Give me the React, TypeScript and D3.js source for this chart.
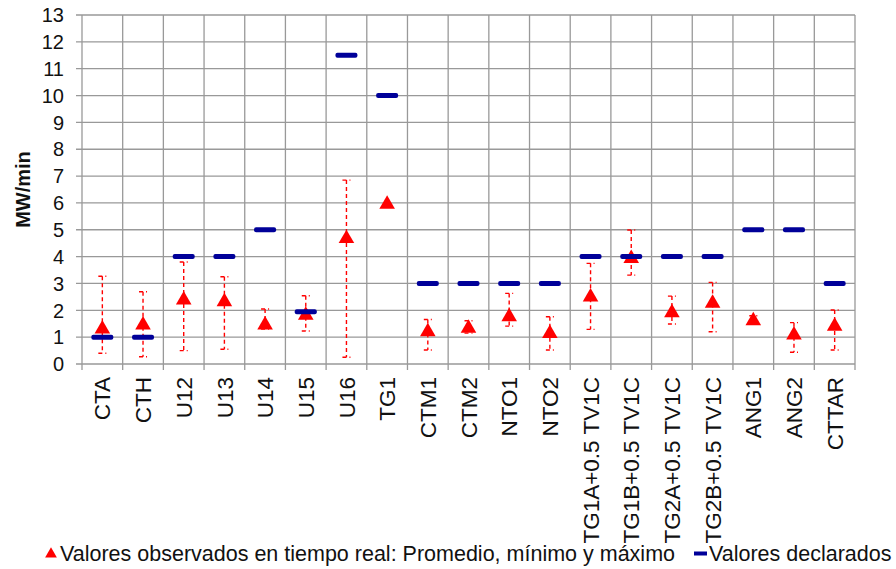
import React, { useRef, useEffect } from "react";
import * as d3 from "d3";

const categories = [
  "CTA", "CTH", "U12", "U13", "U14", "U15", "U16", "TG1", "CTM1", "CTM2",
  "NTO1", "NTO2", "TG1A+0.5 TV1C", "TG1B+0.5 TV1C", "TG2A+0.5 TV1C",
  "TG2B+0.5 TV1C", "ANG1", "ANG2", "CTTAR",
];
const declared = [1, 1, 4, 4, 5, 1.95, 11.5, 10, 3, 3, 3, 3, 4, 4, 4, 4, 5, 5, 3];
const avgObs = [1.3, 1.45, 2.38, 2.32, 1.45, 1.82, 4.67, 5.95, 1.2, 1.33, 1.76, 1.14, 2.5, 3.93, 1.91, 2.26, 1.61, 1.08, 1.41];
const maxObs = [3.27, 2.69, 3.8, 3.25, 2.05, 2.54, 6.85, 5.95, 1.66, 1.61, 2.63, 1.76, 3.75, 4.99, 2.53, 3.04, 1.8, 1.54, 2.01];
const minObs = [0.4, 0.27, 0.5, 0.55, 1.3, 1.23, 0.25, 5.95, 0.52, 1.15, 1.41, 0.52, 1.29, 3.31, 1.49, 1.2, 1.5, 0.44, 0.52];
const yTicks = d3.range(0, 14);

const App = () => {
  const svgRef = useRef<SVGSVGElement>(null);

  useEffect(() => {
    const w = 896;
    const h = 569;
    const m = { left: 82, right: 41, top: 15, bottom: 205 };
    const font = "Liberation Sans, Arial, sans-serif";
    const svg = d3.select(svgRef.current);
    svg.selectAll("*").remove();

    const x = d3
      .scaleBand()
      .domain(categories)
      .range([m.left, w - m.right]);
    const y = d3
      .scaleLinear()
      .domain([0, 13])
      .range([h - m.bottom, m.top]);

    // grid
    const grid = svg.append("g").attr("stroke", "#999").attr("stroke-width", 1.3);
    grid
      .selectAll(".hg")
      .data(yTicks)
      .join("line")
      .attr("x1", m.left - 6)
      .attr("x2", w - m.right)
      .attr("y1", (d) => y(d))
      .attr("y2", (d) => y(d));
    const bounds = categories.map((c) => x(c)!).concat([w - m.right]);
    grid
      .selectAll(".vg")
      .data(bounds)
      .join("line")
      .attr("x1", (d) => d)
      .attr("x2", (d) => d)
      .attr("y1", m.top)
      .attr("y2", y(0) + 6);

    // y labels
    svg
      .append("g")
      .selectAll("text")
      .data(yTicks)
      .join("text")
      .attr("x", m.left - 18)
      .attr("y", (d) => y(d))
      .attr("dy", "0.36em")
      .attr("text-anchor", "end")
      .attr("font-family", font)
      .attr("font-size", 20)
      .attr("fill", "#111")
      .text((d) => d);

    svg
      .append("text")
      .attr("transform", `translate(30, ${(m.top + y(0)) / 2}) rotate(-90)`)
      .attr("text-anchor", "middle")
      .attr("font-family", font)
      .attr("font-weight", "bold")
      .attr("font-size", 20)
      .attr("fill", "#111")
      .text("MW/min");

    // x labels
    svg
      .append("g")
      .selectAll("text")
      .data(categories)
      .join("text")
      .attr(
        "transform",
        (d) => `translate(${x(d)! + x.bandwidth() / 2}, ${y(0) + 13}) rotate(-90)`
      )
      .attr("dy", "0.36em")
      .attr("text-anchor", "end")
      .attr("font-family", font)
      .attr("font-size", 22.5)
      .attr("fill", "#111")
      .text((d) => d);

    const cx = (i: number) => x(categories[i])! + x.bandwidth() / 2;

    // error bars
    const err = svg
      .append("g")
      .attr("stroke", "#ff0000")
      .attr("stroke-width", 1.4)
      .attr("stroke-dasharray", "4,3");
    categories.forEach((c, i) => {
      if (maxObs[i] === minObs[i]) return;
      err
        .append("line")
        .attr("x1", cx(i))
        .attr("x2", cx(i))
        .attr("y1", y(maxObs[i]))
        .attr("y2", y(minObs[i]));
      [maxObs[i], minObs[i]].forEach((v) => {
        err
          .append("line")
          .attr("x1", cx(i) - 4)
          .attr("x2", cx(i) + 4)
          .attr("y1", y(v))
          .attr("y2", y(v));
      });
    });

    // triangles (average)
    const tri = d3.symbol().type(d3.symbolTriangle).size(105);
    svg
      .append("g")
      .selectAll("path")
      .data(avgObs)
      .join("path")
      .attr("transform", (d, i) => `translate(${cx(i)}, ${y(d)})`)
      .attr("d", tri)
      .attr("fill", "#ff0000");

    // declared dashes
    svg
      .append("g")
      .selectAll("rect")
      .data(declared)
      .join("rect")
      .attr("x", (d, i) => cx(i) - 11)
      .attr("y", (d) => y(d) - 2.5)
      .attr("width", 22)
      .attr("height", 5)
      .attr("rx", 2)
      .attr("fill", "#000099");

    // legend
    const lg = svg.append("g").attr("font-family", font).attr("font-size", 21.5).attr("fill", "#111");
    lg.append("path")
      .attr("transform", `translate(51, 554)`)
      .attr("d", d3.symbol().type(d3.symbolTriangle).size(60)())
      .attr("fill", "#ff0000");
    lg.append("text")
      .attr("x", 60)
      .attr("y", 561)
      .text("Valores observados en tiempo real: Promedio, mínimo y máximo");
    lg.append("rect")
      .attr("x", 694)
      .attr("y", 551.5)
      .attr("width", 13)
      .attr("height", 4)
      .attr("fill", "#000099");
    lg.append("text")
      .attr("x", 709)
      .attr("y", 561)
      .text("Valores declarados");
  }, []);

  return (
    <svg
      ref={svgRef}
      width={896}
      height={569}
      style={{ position: "absolute", left: 0, top: 0, background: "white" }}
    ></svg>
  );
};

export default App;
